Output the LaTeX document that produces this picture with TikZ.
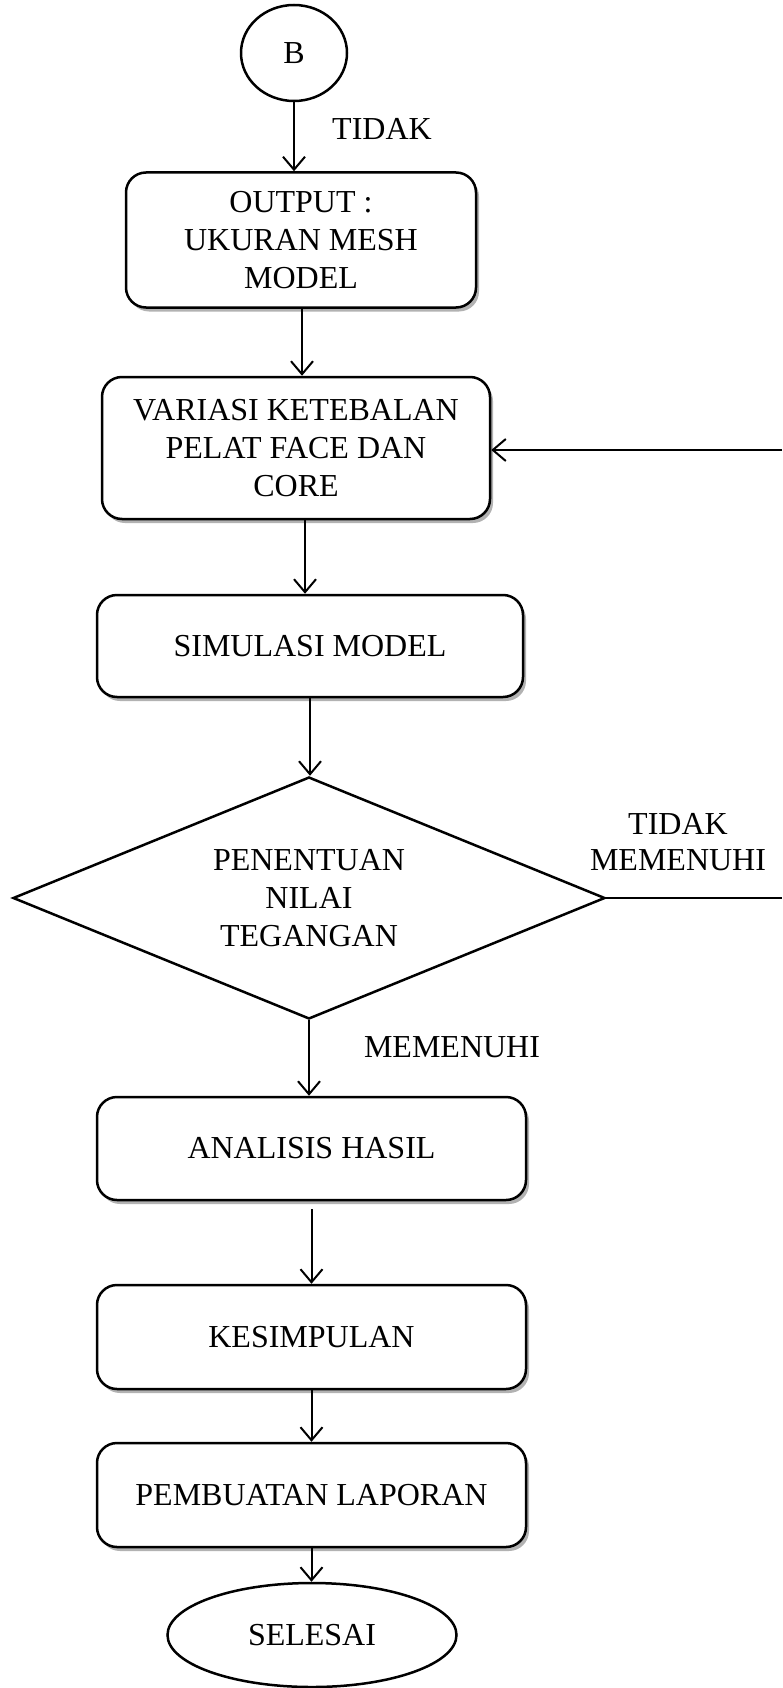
\documentclass[tikz,border=0pt]{standalone}
\usepackage{fontspec}
\setmainfont{Liberation Serif}
\usetikzlibrary{arrows.meta,shapes.geometric,shadows,calc}
\begin{document}
\begin{tikzpicture}[x=1pt,y=-1pt,
  txt/.style={font=\fontsize{32}{38}\selectfont,align=center,inner sep=0pt},
  box/.style={txt,draw,line width=2.5pt,rounded corners=20pt,fill=white,
    drop shadow={shadow xshift=3pt,shadow yshift=-4pt,fill=black,opacity=0.3}},
  oval/.style={txt,ellipse,draw,line width=2.5pt,fill=white},
  dia/.style={txt,diamond,draw,line width=2.5pt,aspect=2.45,fill=white},
  arr/.style={line width=2pt,-{Straight Barb[length=13pt,width=22pt,line width=2pt]}},
  plain/.style={line width=2pt}
]
\useasboundingbox (0,0) rectangle (782,1688);

\node[oval,minimum width=106pt,minimum height=96pt] (B) at (294,53) {B};
\node[txt] (t1) at (382,129) {TIDAK};
\node[box,minimum width=350pt,minimum height=135pt] (o) at (301,240) {OUTPUT :\\UKURAN MESH\\MODEL};
\node[box,minimum width=388pt,minimum height=142pt] (v) at (296,448) {VARIASI KETEBALAN\\PELAT FACE DAN\\CORE};
\node[box,minimum width=426pt,minimum height=102pt] (s) at (310,646) {SIMULASI MODEL};
\node[dia,minimum width=592pt,minimum height=242pt] (d) at (309,898) {PENENTUAN\\NILAI\\TEGANGAN};
\node[txt,font=\fontsize{32}{36}\selectfont] (t2) at (678,842) {TIDAK\\MEMENUHI};
\node[txt] (t3) at (452,1047) {MEMENUHI};
\node[box,minimum width=429pt,minimum height=103pt] (a) at (311.5,1148.5) {ANALISIS HASIL};
\node[box,minimum width=429pt,minimum height=104pt] (k) at (311.5,1337) {KESIMPULAN};
\node[box,minimum width=429pt,minimum height=104pt] (p) at (311.5,1495) {PEMBUATAN LAPORAN};
\node[oval,minimum width=289pt,minimum height=104pt] (e) at (312,1635) {SELESAI};

\coordinate (r1) at (782,898);
\coordinate (r2) at (782,450);

\draw[arr] (B.south) -- (B.south |- o.north);
\draw[arr] ([xshift=1pt]o.south) -- ([xshift=1pt]o.south |- v.north);
\draw[arr] ([xshift=9pt]v.south) -- ([xshift=9pt]v.south |- s.north);
\draw[arr] (s.south) -- (s.south |- d.north);
\draw[arr] (d.south) -- (d.south |- a.north);
\draw[arr] ([yshift=-8pt]a.south) -- (a.south |- k.north);
\draw[arr] (k.south) -- (k.south |- p.north);
\draw[arr] (p.south) -- (p.south |- e.north);
\draw[plain] (d.east) -- (r1);
\draw[arr] (r2) -- (v.east |- r2);
\end{tikzpicture}
\end{document}
